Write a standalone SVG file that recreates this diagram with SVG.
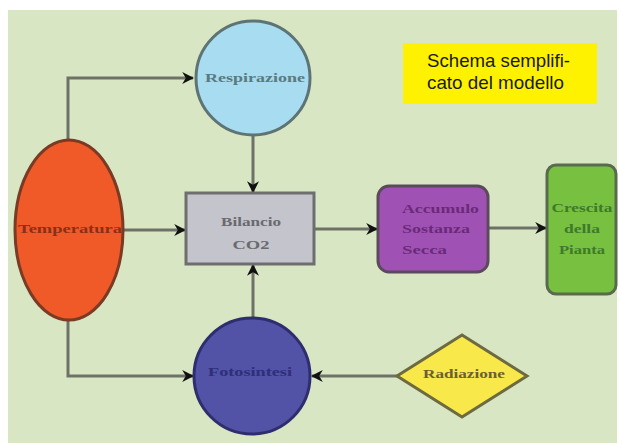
<svg xmlns="http://www.w3.org/2000/svg" width="619" height="443" viewBox="0 0 619 443">
<defs>
<style>
.conn{fill:none;stroke:#6e7266;stroke-width:3}
.lbl{font-family:"Liberation Serif","DejaVu Serif",serif;font-size:13px;font-weight:bold}
.note{font-family:"Liberation Sans","Noto Sans",sans-serif;font-size:19px;fill:#1a1a1a}
</style>
<marker id="arr" viewBox="0 0 10 10" refX="9" refY="5" markerWidth="4" markerHeight="4" orient="auto" markerUnits="strokeWidth">
<path d="M0,0 L10,5 L0,10 L3,5 Z" fill="#111"/>
</marker>
</defs>
<rect x="0" y="0" width="619" height="443" fill="#ffffff"/>
<rect x="8" y="10" width="609" height="433" fill="#d8e6c4"/>

<g id="connectors">
<path class="conn" d="M68,141 V78 H193" marker-end="url(#arr)"/>
<path class="conn" d="M253,135 V192" marker-end="url(#arr)"/>
<path class="conn" d="M123,230 H185" marker-end="url(#arr)"/>
<path class="conn" d="M315,229 H377" marker-end="url(#arr)"/>
<path class="conn" d="M489,228 H546" marker-end="url(#arr)"/>
<path class="conn" d="M253,318 V265" marker-end="url(#arr)"/>
<path class="conn" d="M68,319 V376 H193" marker-end="url(#arr)"/>
<path class="conn" d="M397,376 H312" marker-end="url(#arr)"/>
</g>

<g id="respirazione">
<circle cx="253" cy="78" r="57" fill="#a8dcf0" stroke="#5e7474" stroke-width="3"/>
<text class="lbl" x="255" y="82" text-anchor="middle" fill="#5a7a80" textLength="100" lengthAdjust="spacingAndGlyphs">Respirazione</text>
</g>

<g id="temperatura">
<ellipse cx="69" cy="230" rx="54" ry="90" fill="#f05a28" stroke="#7a3a24" stroke-width="3"/>
<text class="lbl" x="70" y="233" text-anchor="middle" fill="#8a3018" textLength="104" lengthAdjust="spacingAndGlyphs">Temperatura</text>
</g>

<g id="bilancio">
<rect x="186" y="193" width="128" height="71" fill="#c4c4cc" stroke="#6e6e6e" stroke-width="3"/>
<text class="lbl" x="251" y="226" text-anchor="middle" fill="#6a6a6e" textLength="60" lengthAdjust="spacingAndGlyphs">Bilancio</text>
<text class="lbl" x="251" y="249" text-anchor="middle" fill="#6a6a6e" textLength="37" lengthAdjust="spacingAndGlyphs">CO2</text>
</g>

<g id="accumulo">
<rect x="378" y="186" width="110" height="86" rx="11" fill="#a052b4" stroke="#5a4a5c" stroke-width="3"/>
<text class="lbl" x="402" y="213" fill="#6a2a7a" textLength="77" lengthAdjust="spacingAndGlyphs">Accumulo</text>
<text class="lbl" x="402" y="233" fill="#6a2a7a" textLength="68" lengthAdjust="spacingAndGlyphs">Sostanza</text>
<text class="lbl" x="402" y="254" fill="#6a2a7a" textLength="45" lengthAdjust="spacingAndGlyphs">Secca</text>
</g>

<g id="crescita">
<rect x="547" y="165" width="69" height="129" rx="9" fill="#78c040" stroke="#5a6a4e" stroke-width="3"/>
<text class="lbl" x="582" y="212" text-anchor="middle" fill="#3e7a2a" textLength="61" lengthAdjust="spacingAndGlyphs">Crescita</text>
<text class="lbl" x="582" y="233" text-anchor="middle" fill="#3e7a2a" textLength="36" lengthAdjust="spacingAndGlyphs">della</text>
<text class="lbl" x="582" y="254" text-anchor="middle" fill="#3e7a2a" textLength="46" lengthAdjust="spacingAndGlyphs">Pianta</text>
</g>

<g id="fotosintesi">
<circle cx="252" cy="376" r="58" fill="#5252a6" stroke="#2e2e6e" stroke-width="3"/>
<text class="lbl" x="250" y="376" text-anchor="middle" fill="#2e2e7a" textLength="84" lengthAdjust="spacingAndGlyphs">Fotosintesi</text>
</g>

<g id="radiazione">
<polygon points="462,335 527,376 462,417 397,376" fill="#f8e84a" stroke="#6e6a40" stroke-width="3"/>
<text class="lbl" x="464" y="378" text-anchor="middle" fill="#6a6030" textLength="82" lengthAdjust="spacingAndGlyphs">Radiazione</text>
</g>

<g id="nota">
<rect x="403" y="43" width="194" height="61" fill="#fff200"/>
<text class="note" x="427" y="67" textLength="143" lengthAdjust="spacingAndGlyphs">Schema semplifi-</text>
<text class="note" x="427" y="89" textLength="137" lengthAdjust="spacingAndGlyphs">cato del modello</text>
</g>
</svg>
